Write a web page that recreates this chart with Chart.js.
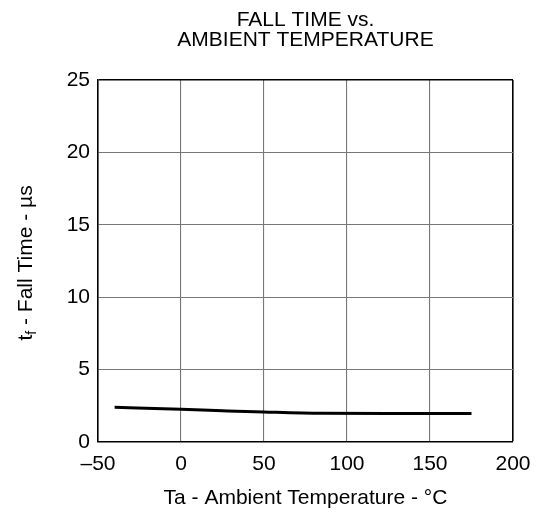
<!DOCTYPE html>
<html>
<head>
<meta charset="utf-8">
<title>Fall Time vs. Ambient Temperature</title>
<script src="https://cdn.jsdelivr.net/npm/chart.js@4.4.1/dist/chart.umd.min.js"></script>
<style>
  html, body { margin: 0; padding: 0; background: #ffffff; }
  canvas { display: block; }
</style>
</head>
<body>
<canvas id="chart" width="542" height="517"></canvas>
<script>
// Ambient temperature (°C) and fall time (µs)
const temperatures = [-40, 0, 25, 50, 85, 125, 175];
const fallTimes = [2.40, 2.26, 2.16, 2.07, 1.98, 1.97, 1.97];

// Axis ranges and tick spacing
const xRange = [-50, 200];
const xStep = 50;
const yRange = [0, 25];
const yStep = 5;

const titleLines = ['FALL TIME vs.', 'AMBIENT TEMPERATURE'];
const xTitle = 'Ta - Ambient Temperature - °C';
const yTitleParts = { main: 't', sub: 'f', rest: ' - Fall Time - µs' };

const FONT = '"Liberation Sans", Arial, Helvetica, sans-serif';
const FONT_SIZE = 21;
const GRID_COLOR = '#777777';

// Rotated y-axis title with a subscript "f"
const yTitlePlugin = {
  id: 'yTitleSub',
  afterDraw(chart) {
    const ctx = chart.ctx;
    const area = chart.chartArea;
    const big = FONT_SIZE + 'px ' + FONT;
    const small = Math.round(FONT_SIZE * 0.68) + 'px ' + FONT;
    ctx.save();
    ctx.font = big;
    const w1 = ctx.measureText(yTitleParts.main).width;
    const w3 = ctx.measureText(yTitleParts.rest).width;
    ctx.font = small;
    const w2 = ctx.measureText(yTitleParts.sub).width;
    const total = w1 + w2 + w3;
    ctx.translate(32, (area.top + area.bottom) / 2 + 2);
    ctx.rotate(-Math.PI / 2);
    ctx.fillStyle = '#000000';
    ctx.textBaseline = 'alphabetic';
    ctx.textAlign = 'left';
    let x = -total / 2;
    ctx.font = big;
    ctx.fillText(yTitleParts.main, x, 0);
    x += w1;
    ctx.font = small;
    ctx.fillText(yTitleParts.sub, x, 4);
    x += w2;
    ctx.font = big;
    ctx.fillText(yTitleParts.rest, x, 0);
    ctx.restore();
  }
};

const edgeColor = (max) => (c) => (c.tick && c.tick.value === max ? '#000000' : GRID_COLOR);
const edgeWidth = (max) => (c) => (c.tick && c.tick.value === max ? 1.6 : 1.1);

new Chart(document.getElementById('chart'), {
  type: 'line',
  data: {
    datasets: [{
      data: temperatures.map((t, i) => ({ x: t, y: fallTimes[i] })),
      borderColor: '#000000',
      borderWidth: 3,
      pointRadius: 0,
      fill: false,
      cubicInterpolationMode: 'monotone'
    }]
  },
  options: {
    responsive: false,
    animation: false,
    devicePixelRatio: 1,
    layout: { padding: { left: 0, right: 29, top: 0, bottom: 0 } },
    plugins: {
      legend: { display: false },
      tooltip: { enabled: false },
      title: {
        display: true,
        text: titleLines,
        fullSize: false,
        color: '#000000',
        font: { family: FONT, size: FONT_SIZE, weight: 'normal', lineHeight: 0.95 },
        padding: { top: 10, bottom: 30 }
      }
    },
    scales: {
      x: {
        type: 'linear',
        min: xRange[0],
        max: xRange[1],
        afterFit(scale) { scale.height = 75; },
        ticks: {
          stepSize: xStep,
          color: '#000000',
          padding: 10,
          maxRotation: 0,
          font: { family: FONT, size: FONT_SIZE },
          callback: (v) => (v < 0 ? '\u2013' + Math.abs(v) : String(v))
        },
        grid: {
          drawTicks: false,
          color: edgeColor(xRange[1]),
          lineWidth: edgeWidth(xRange[1])
        },
        border: { color: '#000000', width: 1.6 },
        title: {
          display: true,
          text: xTitle,
          color: '#000000',
          font: { family: FONT, size: FONT_SIZE },
          padding: { top: 0, bottom: 6 }
        }
      },
      y: {
        type: 'linear',
        min: yRange[0],
        max: yRange[1],
        afterFit(scale) { scale.width = 98; },
        ticks: {
          stepSize: yStep,
          color: '#000000',
          padding: 8,
          font: { family: FONT, size: FONT_SIZE }
        },
        grid: {
          drawTicks: false,
          color: edgeColor(yRange[1]),
          lineWidth: edgeWidth(yRange[1])
        },
        border: { color: '#000000', width: 1.6 }
      }
    }
  },
  plugins: [yTitlePlugin]
});
</script>
</body>
</html>
